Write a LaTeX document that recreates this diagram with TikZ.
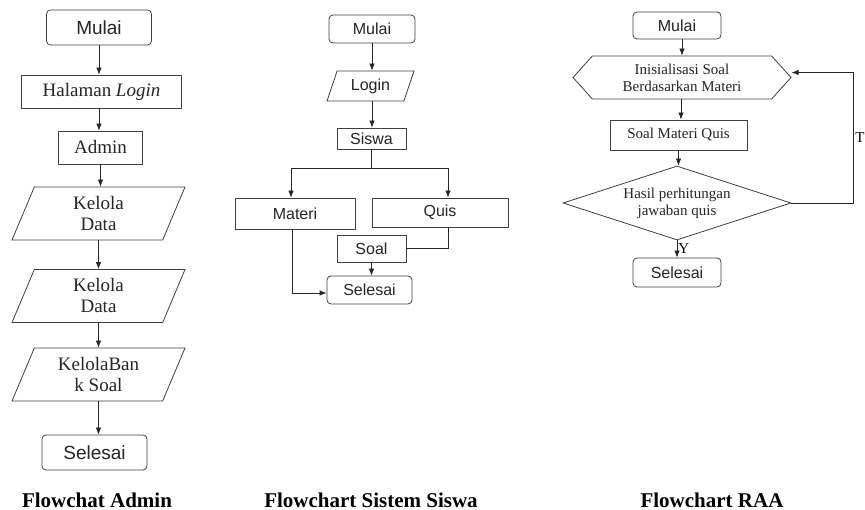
\documentclass[tikz,border=0pt]{standalone}
\usepackage{fontspec}
\setmainfont{Liberation Serif}
\newfontfamily\arialfont{Liberation Sans}
\usepackage{tikz}
\usetikzlibrary{shapes.geometric, shapes.symbols, arrows.meta, positioning}

\tikzset{
  box/.style = {draw=black!75, line width=0.8pt, fill=white, text=black!85, inner sep=0pt, align=center},
  term/.style = {box, rounded corners=4pt},
  proc/.style = {box},
  io/.style = {box, trapezium, trapezium left angle=#1, trapezium right angle=180-#1, trapezium stretches body},
  arr/.style = {-{Latex[length=7pt,width=5.5pt]}, draw=black!85, line width=0.8pt},
  line/.style = {draw=black!85, line width=0.8pt},
  sansL/.style = {font=\arialfont\fontsize{19}{21}\selectfont},
  serifL/.style = {font=\fontsize{19}{21}\selectfont},
  sansM/.style = {font=\arialfont\fontsize{16}{18}\selectfont},
  serifR/.style = {font=\fontsize{15}{17}\selectfont},
  caption/.style = {anchor=base, font=\bfseries\fontsize{21}{23}\selectfont}
}

\begin{document}
\begin{tikzpicture}[x=1pt, y=-1pt]
    \useasboundingbox (0,0) rectangle (865,510);

    % Flowchat Admin
    \node (a-mulai) [term, sansL, minimum width=105, minimum height=35] at (99,27.5) {Mulai};
    \node (a-login) [proc, serifL, minimum width=160, minimum height=33] at (101.5,91.5) {Halaman \textit{Login}};
    \node (a-admin) [proc, serifL, minimum width=84, minimum height=33] at (100.5,147.5) {Admin};
    \node (a-data1) [io=57, serifL, minimum width=173, minimum height=53] at (98.5,213.5) {Kelola\\Data};
    \node (a-data2) [io=57, serifL, minimum width=173, minimum height=53] at (98.5,296) {Kelola\\Data};
    \node (a-bank) [io=57, serifL, minimum width=173, minimum height=53] at (98.5,374.5) {KelolaBan\\k Soal};
    \node (a-selesai) [term, sansL, minimum width=105, minimum height=35] at (94.5,452.5) {Selesai};
    \node (a-cap) [caption] at (97,507) {Flowchat Admin};
    \draw [arr] (a-mulai.south) -- (a-mulai.south |- a-login.north);
    \draw [arr] (a-mulai.south |- a-login.south) -- (a-mulai.south |- a-admin.north);
    \draw [arr] (a-admin.south) -- (a-admin.south |- a-data1.north);
    \draw [arr] (a-data1.south) -- (a-data2.north);
    \draw [arr] (a-data2.south) -- (a-bank.north);
    \draw [arr] (a-bank.south) -- (a-bank.south |- a-selesai.north);

    % Flowchart Sistem Siswa
    \node (s-mulai) [term, sansM, minimum width=86, minimum height=28] at (372,29) {Mulai};
    \node (s-login) [io=56, sansM, minimum width=87, minimum height=30] at (370.5,86) {Login};
    \node (s-siswa) [proc, sansM, minimum width=69, minimum height=21] at (371.5,138.5) {Siswa};
    \node (s-materi) [proc, sansM, minimum width=120, minimum height=31] at (295,213.5) {Materi};
    \node (s-quis) [proc, sansM, minimum width=136, minimum height=29] at (440,212.5) {Quis};
    \node (s-soal) [proc, sansM, minimum width=69, minimum height=27] at (371.5,248.5) {Soal};
    \node (s-selesai) [term, sansM, minimum width=85, minimum height=28] at (369.5,290) {Selesai};
    \node (s-cap) [caption] at (371,507) {Flowchart Sistem Siswa};
    \coordinate (s-fork) at (371.5,168);
    \draw [arr] (s-mulai.south) -- (s-mulai.south |- s-login.north);
    \draw [arr] (s-mulai.south |- s-login.south) -- (s-mulai.south |- s-siswa.north);
    \draw [line] (s-siswa.south) -- (s-fork);
    \draw [arr] (s-fork) -| ([xshift=-4pt]s-materi.north);
    \draw [arr] (s-fork) -| ([xshift=8pt]s-quis.north);
    \draw [line] ([xshift=8pt]s-quis.south) |- (s-soal.east);
    \draw [arr] (s-soal.south) -- (s-soal.south |- s-selesai.north);
    \draw [arr] ([xshift=-3pt]s-materi.south) |- ([yshift=-3pt]s-selesai.west);

    % Flowchart RAA
    \node (r-mulai) [term, sansM, minimum width=88, minimum height=27] at (677,25.5) {Mulai};
    \node (r-init) [box, serifR, signal, signal to=east and west, signal pointer angle=96,
        minimum width=218, minimum height=43] at (682,77.5) {Inisialisasi Soal\\Berdasarkan Materi};
    \node (r-soal) [proc, serifR, minimum width=137, minimum height=30] at (678.5,135) {Soal Materi Quis};
    \node (r-hasil) [box, serifR, diamond, aspect=3, minimum width=228, minimum height=74] at (677,203) {Hasil perhitungan\\jawaban quis};
    \node (r-selesai) [term, sansM, minimum width=88, minimum height=29] at (677,272.5) {Selesai};
    \node (r-cap) [caption] at (712,507) {Flowchart RAA};
    \draw [arr] (r-init.north |- r-mulai.south) -- (r-init.north);
    \draw [arr] ([xshift=-1pt]r-init.south) -- ([xshift=-1pt]r-init.south |- r-soal.north);
    \draw [arr] (r-soal.south) -- (r-soal.south |- r-hasil.north);
    \draw [arr] (r-hasil.south) -- (r-selesai.north)
        node (r-yes) [midway, anchor=west, serifR, inner sep=1pt] {Y};
    \draw [arr] (r-hasil.east) -- ++(62,0) |- ([yshift=5pt]r-init.east)
        node (r-no) [pos=0.25, anchor=west, serifR, inner sep=1.5pt] {T};
\end{tikzpicture}
\end{document}
